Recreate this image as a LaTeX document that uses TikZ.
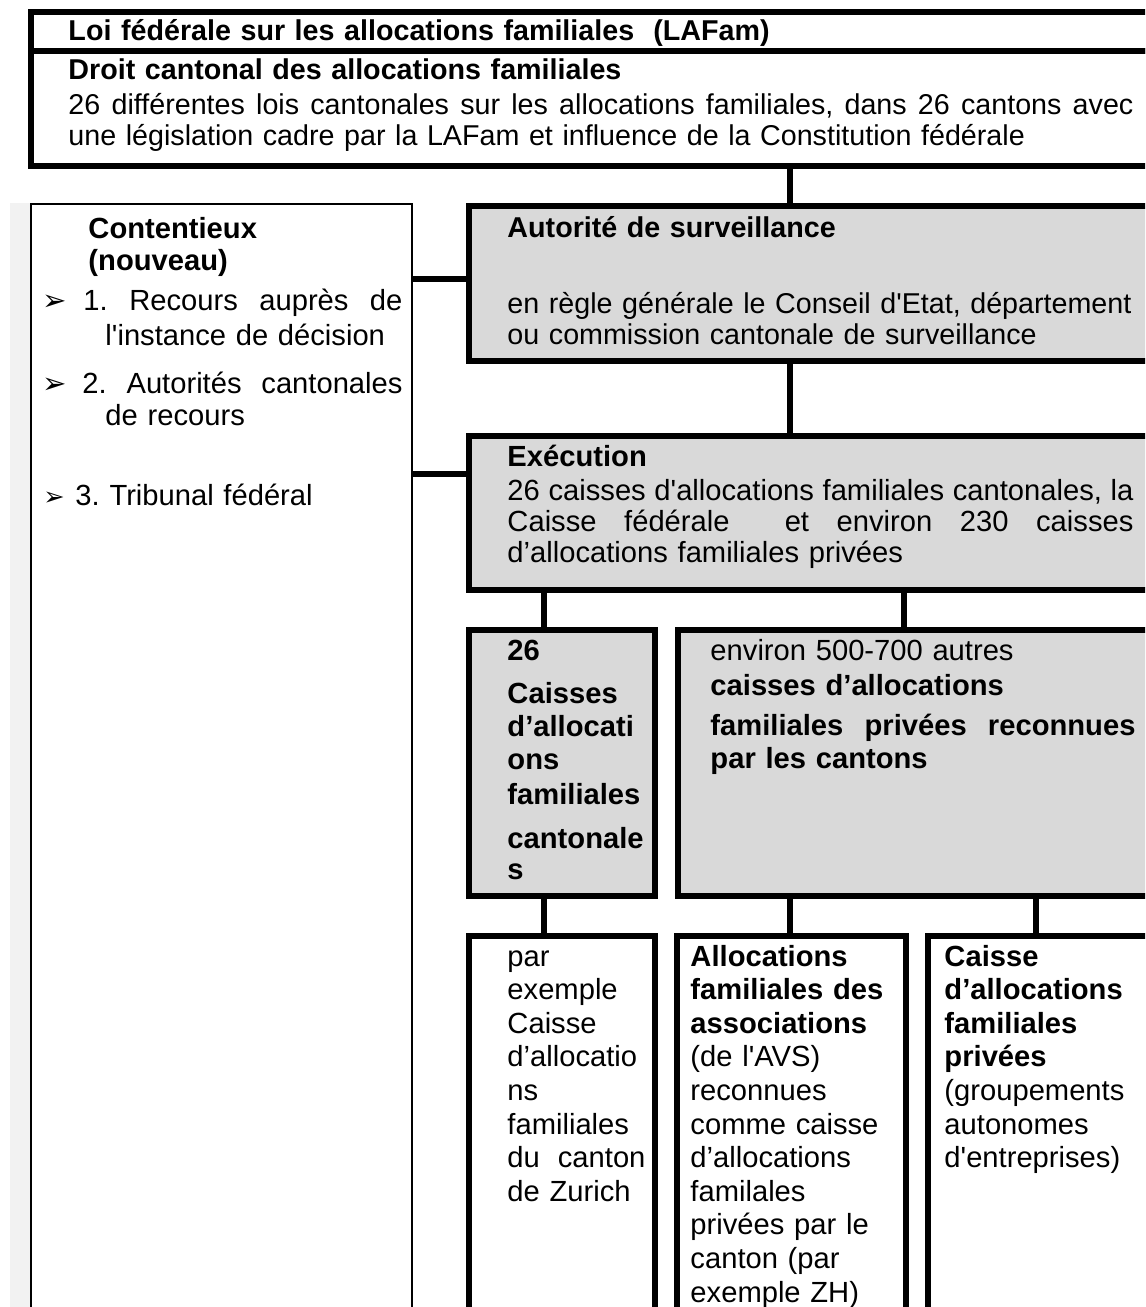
\documentclass[tikz,border=0pt]{standalone}
\usepackage{fontspec}
\usepackage{tikz}
\newfontfamily\arial{Liberation Sans}
\newfontfamily\dingfont{DejaVu Sans}
\newdimen\px \px=0.4115pt
\definecolor{boxgray}{HTML}{D9D9D9}
\definecolor{stripgray}{HTML}{F2F2F2}
\newcommand\jline[2]{\noindent\hbox to #1\px{\spaceskip=\fontdimen2\font plus 1fil\relax #2}}
\newcommand\bul[1]{{\dingfont\fontsize{#1}{#1}\selectfont ➢}}
\tikzset{
  box/.style={draw, line width=6\px, inner sep=0pt, outer sep=0pt, anchor=north west},
  gbox/.style={box, fill=boxgray},
  link/.style={line width=5.5\px},
  txt/.style={inner sep=0pt, anchor=base west, text width=#1\px,
    font=\arial\fontsize{12}{13.79}\selectfont},
  lawtxt/.style={txt=#1, font=\arial\fontsize{11.8}{13.79}\selectfont},
  coltxt/.style={txt=#1, font=\arial\fontsize{12}{13.83}\selectfont},
}

\begin{document}
\frenchspacing
\setlength\parindent{0pt}
\begin{tikzpicture}[x=0.4115pt, y=-0.4115pt]

  \useasboundingbox (0,0) rectangle (1145,1307);
  \clip (0,0) rectangle (1145,1307);

  \fill [stripgray] (10,203) rectangle (30,1320);

  % boxes
  \node [box, minimum width=1130\px, minimum height=38.5\px] (lafam) at (31,12) {};
  \node [box, minimum width=1130\px, minimum height=115.5\px] (cantlaw) at (31,50.5) {};
  \node [box, line width=2\px, minimum width=381\px, minimum height=1120\px] (cont) at (31,204) {};
  \node [gbox, minimum width=692\px, minimum height=155\px] (surv) at (469,206) {};
  \node [gbox, minimum width=692\px, minimum height=154\px] (exec) at (469,436) {};
  \node [gbox, minimum width=186\px, minimum height=266\px] (cantcais) at (469,630) {};
  \node [gbox, minimum width=483\px, minimum height=266\px] (privcais) at (678,630) {};
  \node [box, minimum width=186\px, minimum height=400\px] (zurich) at (469,936) {};
  \node [box, minimum width=229\px, minimum height=400\px] (assoc) at (677,936) {};
  \node [box, minimum width=233\px, minimum height=400\px] (groupe) at (928,936) {};

  % connectors
  \coordinate (colA) at (544,0);
  \coordinate (colB) at (790,0);
  \coordinate (colC) at (904,0);
  \coordinate (colD) at (1036,0);
  \coordinate (rowA) at (0,279);
  \coordinate (rowB) at (0,474);

  \draw [link] (cantlaw.south -| colB) -- (surv.north -| colB);
  \draw [link] (surv.south -| colB) -- (exec.north -| colB);
  \draw [link] (cont.east |- rowA) -- (surv.west |- rowA);
  \draw [link] (cont.east |- rowB) -- (exec.west |- rowB);
  \draw [link] (exec.south -| colA) -- (cantcais.north -| colA);
  \draw [link] (exec.south -| colC) -- (privcais.north -| colC);
  \draw [link] (cantcais.south -| colA) -- (zurich.north -| colA);
  \draw [link] (privcais.south -| colB) -- (assoc.north -| colB);
  \draw [link] (privcais.south -| colD) -- (groupe.north -| colD);

  % texts
  \node [lawtxt=1080] (lafam-t) at (68,40)
    {\bfseries Loi fédérale sur les allocations familiales\ \ (LAFam)};
  \node [lawtxt=1080] (cantlaw-t) at (68,79)
    {\textbf{Droit cantonal des allocations familiales}\\[1.5\px]
     \jline{1065}{26 différentes lois cantonales sur les allocations familiales, dans 26 cantons avec}\\[-2\px]
     une législation cadre par la LAFam et influence de la Constitution fédérale};

  \node [txt=330] (cont-t) at (88,238)
    {\textbf{Contentieux}\\[-1.5\px]\textbf{(nouveau)}};
  \node [txt=370] (recours1) at (42,310)
    {\makebox[41\px][l]{\bul{12}}\jline{319}{1. Recours auprès de}\\[1.5\px]
     \hspace*{63\px}l'instance de décision};
  \node [txt=370] (recours2) at (42,393)
    {\makebox[40\px][l]{\bul{12}}\jline{320}{2. Autorités cantonales}\\[-1.5\px]
     \hspace*{63\px}de recours};
  \node [txt=370] (recours3) at (43,505)
    {\makebox[32\px][l]{\bul{10.5}}3. Tribunal fédéral};

  \node [lawtxt=660] (surv-t) at (507,237)
    {\textbf{Autorité de surveillance}\\[42.5\px]
     en règle générale le Conseil d'Etat, département\\[-2.5\px]
     ou commission cantonale de surveillance};
  \node [txt=660] (exec-t) at (507,466)
    {\textbf{Exécution}\\[0.5\px]
     \jline{626}{26 caisses d'allocations familiales cantonales, la}\\[-2.5\px]
     \jline{626}{Caisse fédérale\ \ et environ 230 caisses}\\[-2.5\px]
     d’allocations familiales privées};

  \node [txt=160] (cantcais-t) at (507,660)
    {\bfseries 26\\[10\px] Caisses\\[-0.5\px] d’allocati\\[-1\px] ons\\[1.5\px]
     familiales\\[10.5\px] cantonale\\[-2.5\px] s};
  \node [txt=450] (privcais-t) at (710,660)
    {environ 500-700 autres\\[1.5\px]
     \textbf{caisses d’allocations}\\[6.5\px]
     \textbf{\jline{425}{familiales privées reconnues}}\\[-0.5\px]
     \textbf{par les cantons}};

  \node [coltxt=150] (zurich-t) at (507,966)
    {par\\ exemple\\ Caisse\\ d’allocatio\\ ns\\ familiales\\
     \jline{138}{du canton}\\ de Zurich};
  \node [coltxt=215] (assoc-t) at (690,966)
    {\textbf{Allocations}\\ \textbf{familiales des}\\ \textbf{associations}\\
     (de l'AVS)\\ reconnues\\ comme caisse\\ d’allocations\\ familales\\
     privées par le\\ canton (par\\ exemple ZH)};
  \node [coltxt=210] (groupe-t) at (944,966)
    {\textbf{Caisse}\\ \textbf{d’allocations}\\ \textbf{familiales}\\ \textbf{privées}\\
     (groupements\\ autonomes\\ d'entreprises)};

\end{tikzpicture}
\end{document}
